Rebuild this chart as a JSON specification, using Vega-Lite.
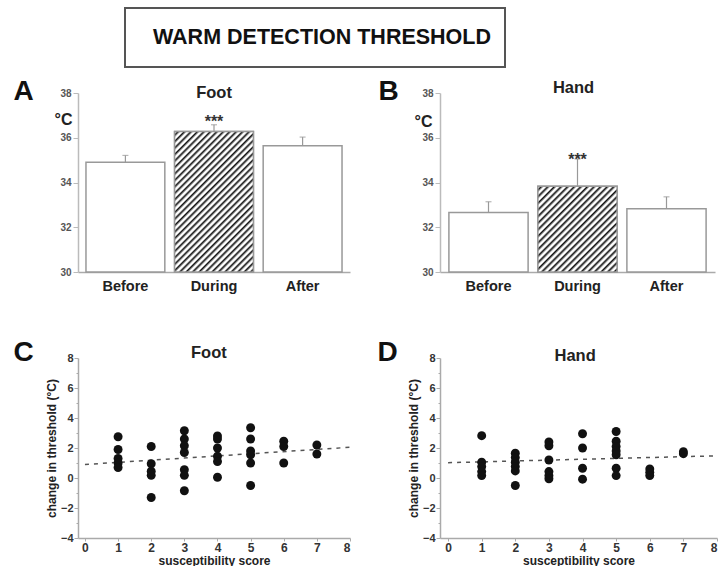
{
  "$schema": "https://vega.github.io/schema/vega-lite/v6.json",
  "background": "white",
  "padding": {"left": 13, "top": 7, "right": 0, "bottom": 0},
  "config": {
    "view": {"stroke": null},
    "font": "Liberation Sans"
  },
  "spacing": 9,
  "vconcat": [
    {
      "spacing": 0,
      "hconcat": [
        {
          "width": 46,
          "height": 59,
          "view": {"fill": "white"},
          "data": {"values": []},
          "mark": {"type": "text"},
          "encoding": {}
        },
        {
          "width": 380,
          "height": 59,
          "view": {"stroke": "#555", "strokeWidth": 2},
          "data": {"values": [{"label": "WARM DETECTION THRESHOLD"}]},
          "mark": {"type": "text", "fontSize": 21.5, "fontWeight": "bold", "color": "#111", "baseline": "middle", "align": "center", "dx": 7},
          "encoding": {"text": {"field": "label"}}
        }
      ]
    },
    {
      "spacing": 45,
      "vconcat": [
        {
          "spacing": 28,
          "hconcat": [
            {
              "width": 272,
              "height": 179,
              "data": {"values": [
                {"phase": "Before", "mean": 34.9, "upper": 35.21},
                {"phase": "During", "mean": 36.28, "upper": 36.58},
                {"phase": "After", "mean": 35.64, "upper": 36.03}
              ]},
              "encoding": {
                "x": {"field": "phase", "type": "nominal", "sort": ["Before", "During", "After"],
                  "scale": {"paddingInner": 0.11, "paddingOuter": 0.09},
                  "axis": {"title": null, "labelAngle": 0, "labelFontSize": 14.5, "labelFontWeight": "bold", "labelColor": "#222", "ticks": false, "labelPadding": 7, "domainColor": "#aaa", "domainWidth": 1.5}}
              },
              "resolve": {"scale": {"y": "independent"}, "axis": {"y": "independent"}},
              "layer": [
                {
                  "layer": [
                    {
                      "mark": {"type": "bar", "fill": "white", "stroke": "#999", "strokeWidth": 1.5},
                      "encoding": {
                        "y": {"field": "mean", "type": "quantitative", "scale": {"domain": [30, 38], "nice": false, "zero": false},
                          "axis": {"values": [30, 32, 34, 36, 38], "tickCount": 10, "format": "d", "grid": false, "title": "°C", "titleAngle": 0, "titleAlign": "right", "titleBaseline": "middle", "titleX": -6, "titleY": 26, "titleFontSize": 16, "titleFontWeight": "bold", "titleColor": "#222", "labelFontSize": 10, "labelFontWeight": "bold", "labelColor": "#555", "tickSize": 5, "tickColor": "#bbb", "domainColor": "#bbb", "domainWidth": 1.5, "labelPadding": 2}},
                        "y2": {"datum": 30}
                      }
                    },
                    {
                      "transform": [{"filter": "datum.phase === 'During'"}],
                      "mark": {"type": "bar", "stroke": "#999", "strokeWidth": 1.5,
                        "fill": {"gradient": "linear", "x1": 0, "y1": 0, "x2": 0.6665, "y2": 1.1876, "stops": [
                          {"offset": 0, "color": "#fff"}, {"offset": 0.0074, "color": "#fff"}, {"offset": 0.0162, "color": "#111"},
                          {"offset": 0.0294, "color": "#fff"}, {"offset": 0.0368, "color": "#fff"}, {"offset": 0.0456, "color": "#111"},
                          {"offset": 0.0588, "color": "#fff"}, {"offset": 0.0662, "color": "#fff"}, {"offset": 0.0750, "color": "#111"},
                          {"offset": 0.0882, "color": "#fff"}, {"offset": 0.0956, "color": "#fff"}, {"offset": 0.1044, "color": "#111"},
                          {"offset": 0.1176, "color": "#fff"}, {"offset": 0.1250, "color": "#fff"}, {"offset": 0.1338, "color": "#111"},
                          {"offset": 0.1471, "color": "#fff"}, {"offset": 0.1545, "color": "#fff"}, {"offset": 0.1633, "color": "#111"},
                          {"offset": 0.1765, "color": "#fff"}, {"offset": 0.1839, "color": "#fff"}, {"offset": 0.1927, "color": "#111"},
                          {"offset": 0.2059, "color": "#fff"}, {"offset": 0.2133, "color": "#fff"}, {"offset": 0.2221, "color": "#111"},
                          {"offset": 0.2353, "color": "#fff"}, {"offset": 0.2427, "color": "#fff"}, {"offset": 0.2515, "color": "#111"},
                          {"offset": 0.2647, "color": "#fff"}, {"offset": 0.2721, "color": "#fff"}, {"offset": 0.2809, "color": "#111"},
                          {"offset": 0.2941, "color": "#fff"}, {"offset": 0.3015, "color": "#fff"}, {"offset": 0.3103, "color": "#111"},
                          {"offset": 0.3235, "color": "#fff"}, {"offset": 0.3309, "color": "#fff"}, {"offset": 0.3397, "color": "#111"},
                          {"offset": 0.3529, "color": "#fff"}, {"offset": 0.3603, "color": "#fff"}, {"offset": 0.3691, "color": "#111"},
                          {"offset": 0.3824, "color": "#fff"}, {"offset": 0.3898, "color": "#fff"}, {"offset": 0.3986, "color": "#111"},
                          {"offset": 0.4118, "color": "#fff"}, {"offset": 0.4192, "color": "#fff"}, {"offset": 0.4280, "color": "#111"},
                          {"offset": 0.4412, "color": "#fff"}, {"offset": 0.4486, "color": "#fff"}, {"offset": 0.4574, "color": "#111"},
                          {"offset": 0.4706, "color": "#fff"}, {"offset": 0.4780, "color": "#fff"}, {"offset": 0.4868, "color": "#111"},
                          {"offset": 0.5000, "color": "#fff"}, {"offset": 0.5074, "color": "#fff"}, {"offset": 0.5162, "color": "#111"},
                          {"offset": 0.5294, "color": "#fff"}, {"offset": 0.5368, "color": "#fff"}, {"offset": 0.5456, "color": "#111"},
                          {"offset": 0.5588, "color": "#fff"}, {"offset": 0.5662, "color": "#fff"}, {"offset": 0.5750, "color": "#111"},
                          {"offset": 0.5882, "color": "#fff"}, {"offset": 0.5956, "color": "#fff"}, {"offset": 0.6044, "color": "#111"},
                          {"offset": 0.6176, "color": "#fff"}, {"offset": 0.6250, "color": "#fff"}, {"offset": 0.6338, "color": "#111"},
                          {"offset": 0.6471, "color": "#fff"}, {"offset": 0.6545, "color": "#fff"}, {"offset": 0.6633, "color": "#111"},
                          {"offset": 0.6765, "color": "#fff"}, {"offset": 0.6839, "color": "#fff"}, {"offset": 0.6927, "color": "#111"},
                          {"offset": 0.7059, "color": "#fff"}, {"offset": 0.7133, "color": "#fff"}, {"offset": 0.7221, "color": "#111"},
                          {"offset": 0.7353, "color": "#fff"}, {"offset": 0.7427, "color": "#fff"}, {"offset": 0.7515, "color": "#111"},
                          {"offset": 0.7647, "color": "#fff"}, {"offset": 0.7721, "color": "#fff"}, {"offset": 0.7809, "color": "#111"},
                          {"offset": 0.7941, "color": "#fff"}, {"offset": 0.8015, "color": "#fff"}, {"offset": 0.8103, "color": "#111"},
                          {"offset": 0.8235, "color": "#fff"}, {"offset": 0.8309, "color": "#fff"}, {"offset": 0.8397, "color": "#111"},
                          {"offset": 0.8529, "color": "#fff"}, {"offset": 0.8603, "color": "#fff"}, {"offset": 0.8691, "color": "#111"},
                          {"offset": 0.8824, "color": "#fff"}, {"offset": 0.8898, "color": "#fff"}, {"offset": 0.8986, "color": "#111"},
                          {"offset": 0.9118, "color": "#fff"}, {"offset": 0.9192, "color": "#fff"}, {"offset": 0.9280, "color": "#111"},
                          {"offset": 0.9412, "color": "#fff"}, {"offset": 0.9486, "color": "#fff"}, {"offset": 0.9574, "color": "#111"},
                          {"offset": 0.9706, "color": "#fff"}, {"offset": 0.9780, "color": "#fff"}, {"offset": 0.9868, "color": "#111"},
                          {"offset": 1, "color": "#fff"}
                        ]}},
                      "encoding": {"y": {"field": "mean", "type": "quantitative"}, "y2": {"datum": 30}}
                    },
                    {
                      "mark": {"type": "rule", "color": "#999", "strokeWidth": 1.2},
                      "encoding": {"y": {"field": "mean", "type": "quantitative"}, "y2": {"field": "upper"}}
                    },
                    {
                      "mark": {"type": "tick", "color": "#999", "thickness": 1.2, "size": 6},
                      "encoding": {"y": {"field": "upper", "type": "quantitative"}}
                    },
                    {
                      "transform": [{"filter": "datum.phase === 'During'"}],
                      "mark": {"type": "text", "text": "***", "fontSize": 16, "fontWeight": "bold", "color": "#333", "baseline": "alphabetic"},
                      "encoding": {"y": {"datum": 36.5}}
                    }
                  ]
                },
                {
                  "transform": [{"filter": "datum.phase === 'During'"}],
                  "mark": {"type": "text", "text": "Foot", "fontSize": 16.5, "fontWeight": "bold", "color": "#222", "baseline": "alphabetic"},
                  "encoding": {"y": {"datum": 37.78, "scale": {"domain": [30, 38], "nice": false, "zero": false},
                    "axis": {"orient": "left", "title": "A", "titleX": -65, "titleY": 6.5, "titleAngle": 0, "titleAlign": "left", "titleBaseline": "alphabetic", "titleFontSize": 28, "titleFontWeight": "bold", "titleColor": "#111", "labels": false, "ticks": false, "domain": false, "grid": false}}}
                }
              ]
            },
            {
              "width": 275,
              "height": 179,
              "data": {"values": [
                {"phase": "Before", "mean": 32.66, "upper": 33.14},
                {"phase": "During", "mean": 33.83, "upper": 35.05},
                {"phase": "After", "mean": 32.83, "upper": 33.36}
              ]},
              "encoding": {
                "x": {"field": "phase", "type": "nominal", "sort": ["Before", "During", "After"],
                  "scale": {"paddingInner": 0.11, "paddingOuter": 0.1},
                  "axis": {"title": null, "labelAngle": 0, "labelFontSize": 14.5, "labelFontWeight": "bold", "labelColor": "#222", "ticks": false, "labelPadding": 7, "domainColor": "#aaa", "domainWidth": 1.5}}
              },
              "resolve": {"scale": {"y": "independent"}, "axis": {"y": "independent"}},
              "layer": [
                {
                  "layer": [
                    {
                      "mark": {"type": "bar", "fill": "white", "stroke": "#999", "strokeWidth": 1.5},
                      "encoding": {
                        "y": {"field": "mean", "type": "quantitative", "scale": {"domain": [30, 38], "nice": false, "zero": false},
                          "axis": {"values": [30, 32, 34, 36, 38], "tickCount": 10, "format": "d", "grid": false, "title": "°C", "titleAngle": 0, "titleAlign": "right", "titleBaseline": "middle", "titleX": -8, "titleY": 28, "titleFontSize": 16, "titleFontWeight": "bold", "titleColor": "#222", "labelFontSize": 10, "labelFontWeight": "bold", "labelColor": "#555", "tickSize": 5, "tickColor": "#bbb", "domainColor": "#bbb", "domainWidth": 1.5, "labelPadding": 2}},
                        "y2": {"datum": 30}
                      }
                    },
                    {
                      "transform": [{"filter": "datum.phase === 'During'"}],
                      "mark": {"type": "bar", "stroke": "#999", "strokeWidth": 1.5,
                        "fill": {"gradient": "linear", "x1": 0, "y1": 0, "x2": 0.959, "y2": 1.0378, "stops": [
                          {"offset": 0, "color": "#fff"}, {"offset": 0.01, "color": "#fff"}, {"offset": 0.022, "color": "#111"},
                          {"offset": 0.04, "color": "#fff"}, {"offset": 0.05, "color": "#fff"}, {"offset": 0.062, "color": "#111"},
                          {"offset": 0.08, "color": "#fff"}, {"offset": 0.09, "color": "#fff"}, {"offset": 0.102, "color": "#111"},
                          {"offset": 0.12, "color": "#fff"}, {"offset": 0.13, "color": "#fff"}, {"offset": 0.142, "color": "#111"},
                          {"offset": 0.16, "color": "#fff"}, {"offset": 0.17, "color": "#fff"}, {"offset": 0.182, "color": "#111"},
                          {"offset": 0.20, "color": "#fff"}, {"offset": 0.21, "color": "#fff"}, {"offset": 0.222, "color": "#111"},
                          {"offset": 0.24, "color": "#fff"}, {"offset": 0.25, "color": "#fff"}, {"offset": 0.262, "color": "#111"},
                          {"offset": 0.28, "color": "#fff"}, {"offset": 0.29, "color": "#fff"}, {"offset": 0.302, "color": "#111"},
                          {"offset": 0.32, "color": "#fff"}, {"offset": 0.33, "color": "#fff"}, {"offset": 0.342, "color": "#111"},
                          {"offset": 0.36, "color": "#fff"}, {"offset": 0.37, "color": "#fff"}, {"offset": 0.382, "color": "#111"},
                          {"offset": 0.40, "color": "#fff"}, {"offset": 0.41, "color": "#fff"}, {"offset": 0.422, "color": "#111"},
                          {"offset": 0.44, "color": "#fff"}, {"offset": 0.45, "color": "#fff"}, {"offset": 0.462, "color": "#111"},
                          {"offset": 0.48, "color": "#fff"}, {"offset": 0.49, "color": "#fff"}, {"offset": 0.502, "color": "#111"},
                          {"offset": 0.52, "color": "#fff"}, {"offset": 0.53, "color": "#fff"}, {"offset": 0.542, "color": "#111"},
                          {"offset": 0.56, "color": "#fff"}, {"offset": 0.57, "color": "#fff"}, {"offset": 0.582, "color": "#111"},
                          {"offset": 0.60, "color": "#fff"}, {"offset": 0.61, "color": "#fff"}, {"offset": 0.622, "color": "#111"},
                          {"offset": 0.64, "color": "#fff"}, {"offset": 0.65, "color": "#fff"}, {"offset": 0.662, "color": "#111"},
                          {"offset": 0.68, "color": "#fff"}, {"offset": 0.69, "color": "#fff"}, {"offset": 0.702, "color": "#111"},
                          {"offset": 0.72, "color": "#fff"}, {"offset": 0.73, "color": "#fff"}, {"offset": 0.742, "color": "#111"},
                          {"offset": 0.76, "color": "#fff"}, {"offset": 0.77, "color": "#fff"}, {"offset": 0.782, "color": "#111"},
                          {"offset": 0.80, "color": "#fff"}, {"offset": 0.81, "color": "#fff"}, {"offset": 0.822, "color": "#111"},
                          {"offset": 0.84, "color": "#fff"}, {"offset": 0.85, "color": "#fff"}, {"offset": 0.862, "color": "#111"},
                          {"offset": 0.88, "color": "#fff"}, {"offset": 0.89, "color": "#fff"}, {"offset": 0.902, "color": "#111"},
                          {"offset": 0.92, "color": "#fff"}, {"offset": 0.93, "color": "#fff"}, {"offset": 0.942, "color": "#111"},
                          {"offset": 0.96, "color": "#fff"}, {"offset": 0.97, "color": "#fff"}, {"offset": 0.982, "color": "#111"},
                          {"offset": 1, "color": "#fff"}
                        ]}},
                      "encoding": {"y": {"field": "mean", "type": "quantitative"}, "y2": {"datum": 30}}
                    },
                    {
                      "mark": {"type": "rule", "color": "#999", "strokeWidth": 1.2},
                      "encoding": {"y": {"field": "mean", "type": "quantitative"}, "y2": {"field": "upper"}}
                    },
                    {
                      "mark": {"type": "tick", "color": "#999", "thickness": 1.2, "size": 6},
                      "encoding": {"y": {"field": "upper", "type": "quantitative"}}
                    },
                    {
                      "transform": [{"filter": "datum.phase === 'During'"}],
                      "mark": {"type": "text", "text": "***", "fontSize": 16, "fontWeight": "bold", "color": "#333", "baseline": "alphabetic"},
                      "encoding": {"y": {"datum": 34.76}}
                    }
                  ]
                },
                {
                  "transform": [{"filter": "datum.phase === 'During'"}],
                  "mark": {"type": "text", "text": "Hand", "fontSize": 16.5, "fontWeight": "bold", "color": "#222", "baseline": "alphabetic", "dx": -4},
                  "encoding": {"y": {"datum": 38, "scale": {"domain": [30, 38], "nice": false, "zero": false},
                    "axis": {"orient": "left", "title": "B", "titleX": -62, "titleY": 6.5, "titleAngle": 0, "titleAlign": "left", "titleBaseline": "alphabetic", "titleFontSize": 28, "titleFontWeight": "bold", "titleColor": "#111", "labels": false, "ticks": false, "domain": false, "grid": false}}}
                }
              ]
            }
          ]
        },
        {
          "spacing": 24,
          "hconcat": [
            {
              "width": 272,
              "height": 180,
              "resolve": {"scale": {"y": "independent"}, "axis": {"y": "independent"}},
              "layer": [
                {
                  "layer": [
                    {
                      "data": {"values": [{"score": 0, "change": 0.9}, {"score": 8, "change": 2.05}]},
                      "mark": {"type": "line", "strokeDash": [4, 5], "color": "#555", "strokeWidth": 1.5},
                      "encoding": {
                        "x": {"field": "score", "type": "quantitative", "scale": {"domain": [-0.21, 8], "nice": false, "zero": false},
                          "axis": {"values": [0, 1, 2, 3, 4, 5, 6, 7, 8], "tickCount": 20, "format": "d", "labelOverlap": false, "grid": false, "title": "susceptibility score", "titleFontSize": 12, "titleFontWeight": "bold", "titleColor": "#222", "titlePadding": 2, "labelFontSize": 12, "labelFontWeight": "bold", "labelColor": "#333", "tickSize": 3, "tickColor": "#aaa", "labelPadding": 1, "domainColor": "#aaa", "domainWidth": 1.5}},
                        "y": {"field": "change", "type": "quantitative", "scale": {"domain": [-4, 8], "nice": false, "zero": false},
                          "axis": {"values": [-4, -3, -2, -1, 0, 1, 2, 3, 4, 5, 6, 7, 8], "tickCount": 20, "format": "d", "labelOverlap": false, "labelExpr": "datum.value % 2 === 0 ? datum.label : ''", "grid": false, "title": "change in threshold (°C)", "titleFontSize": 12, "titleFontWeight": "bold", "titleColor": "#222", "titlePadding": 2, "labelFontSize": 11, "labelFontWeight": "bold", "labelColor": "#333", "tickSize": {"condition": {"test": "datum.value % 2 === 0", "value": 4}, "value": 2}, "tickColor": "#aaa", "labelPadding": 1, "domainColor": "#aaa", "domainWidth": 1.5}}
                      }
                    },
                    {
                      "data": {"values": [
                        {"score": 1, "change": 2.75}, {"score": 1, "change": 1.9}, {"score": 1, "change": 1.3}, {"score": 1, "change": 1.0}, {"score": 1, "change": 0.7},
                        {"score": 2, "change": 2.1}, {"score": 2, "change": 0.95}, {"score": 2, "change": 0.45}, {"score": 2, "change": 0.18}, {"score": 2, "change": -1.3},
                        {"score": 3, "change": 3.15}, {"score": 3, "change": 2.6}, {"score": 3, "change": 2.15}, {"score": 3, "change": 1.7}, {"score": 3, "change": 0.55}, {"score": 3, "change": 0.18}, {"score": 3, "change": -0.85},
                        {"score": 4, "change": 2.8}, {"score": 4, "change": 2.6}, {"score": 4, "change": 2.0}, {"score": 4, "change": 1.45}, {"score": 4, "change": 1.1}, {"score": 4, "change": 0.05},
                        {"score": 5, "change": 3.35}, {"score": 5, "change": 2.6}, {"score": 5, "change": 1.8}, {"score": 5, "change": 1.55}, {"score": 5, "change": 1.0}, {"score": 5, "change": -0.5},
                        {"score": 6, "change": 2.45}, {"score": 6, "change": 2.1}, {"score": 6, "change": 1.0},
                        {"score": 7, "change": 2.2}, {"score": 7, "change": 1.6}
                      ]},
                      "mark": {"type": "circle", "size": 80, "color": "#111", "opacity": 1},
                      "encoding": {"x": {"field": "score", "type": "quantitative"}, "y": {"field": "change", "type": "quantitative"}}
                    }
                  ]
                },
                {
                  "data": {"values": [{}]},
                  "mark": {"type": "text", "text": "Foot", "fontSize": 16.5, "fontWeight": "bold", "color": "#222", "baseline": "alphabetic"},
                  "encoding": {"x": {"datum": 3.74}, "y": {"datum": 8, "scale": {"domain": [-4, 8], "nice": false, "zero": false},
                    "axis": {"orient": "left", "title": "C", "titleX": -65, "titleY": 2.5, "titleAngle": 0, "titleAlign": "left", "titleBaseline": "alphabetic", "titleFontSize": 28, "titleFontWeight": "bold", "titleColor": "#111", "labels": false, "ticks": false, "domain": false, "grid": false}}}
                }
              ]
            },
            {
              "width": 277,
              "height": 180,
              "resolve": {"scale": {"y": "independent"}, "axis": {"y": "independent"}},
              "layer": [
                {
                  "layer": [
                    {
                      "data": {"values": [{"score": 0, "change": 1.02}, {"score": 8, "change": 1.48}]},
                      "mark": {"type": "line", "strokeDash": [4, 5], "color": "#555", "strokeWidth": 1.5},
                      "encoding": {
                        "x": {"field": "score", "type": "quantitative", "scale": {"domain": [-0.24, 8], "nice": false, "zero": false},
                          "axis": {"values": [0, 1, 2, 3, 4, 5, 6, 7, 8], "tickCount": 20, "format": "d", "labelOverlap": false, "grid": false, "title": "susceptibility score", "titleFontSize": 12, "titleFontWeight": "bold", "titleColor": "#222", "titlePadding": 2, "labelFontSize": 12, "labelFontWeight": "bold", "labelColor": "#333", "tickSize": 3, "tickColor": "#aaa", "labelPadding": 1, "domainColor": "#aaa", "domainWidth": 1.5}},
                        "y": {"field": "change", "type": "quantitative", "scale": {"domain": [-4, 8], "nice": false, "zero": false},
                          "axis": {"values": [-4, -3, -2, -1, 0, 1, 2, 3, 4, 5, 6, 7, 8], "tickCount": 20, "format": "d", "labelOverlap": false, "labelExpr": "datum.value % 2 === 0 ? datum.label : ''", "grid": false, "title": "change in threshold (°C)", "titleFontSize": 12, "titleFontWeight": "bold", "titleColor": "#222", "titlePadding": 2, "labelFontSize": 11, "labelFontWeight": "bold", "labelColor": "#333", "tickSize": {"condition": {"test": "datum.value % 2 === 0", "value": 4}, "value": 2}, "tickColor": "#aaa", "labelPadding": 1, "domainColor": "#aaa", "domainWidth": 1.5}}
                      }
                    },
                    {
                      "data": {"values": [
                        {"score": 1, "change": 2.82}, {"score": 1, "change": 1.05}, {"score": 1, "change": 0.76}, {"score": 1, "change": 0.43}, {"score": 1, "change": 0.16},
                        {"score": 2, "change": 1.65}, {"score": 2, "change": 1.36}, {"score": 2, "change": 1.05}, {"score": 2, "change": 0.76}, {"score": 2, "change": 0.47}, {"score": 2, "change": -0.5},
                        {"score": 3, "change": 2.4}, {"score": 3, "change": 2.15}, {"score": 3, "change": 1.2}, {"score": 3, "change": 0.43}, {"score": 3, "change": 0.16}, {"score": 3, "change": -0.05},
                        {"score": 4, "change": 2.95}, {"score": 4, "change": 2.0}, {"score": 4, "change": 0.65}, {"score": 4, "change": -0.08},
                        {"score": 5, "change": 3.1}, {"score": 5, "change": 2.45}, {"score": 5, "change": 2.1}, {"score": 5, "change": 1.8}, {"score": 5, "change": 1.55}, {"score": 5, "change": 0.65}, {"score": 5, "change": 0.16},
                        {"score": 6, "change": 0.6}, {"score": 6, "change": 0.38}, {"score": 6, "change": 0.16},
                        {"score": 7, "change": 1.75}, {"score": 7, "change": 1.62}
                      ]},
                      "mark": {"type": "circle", "size": 80, "color": "#111", "opacity": 1},
                      "encoding": {"x": {"field": "score", "type": "quantitative"}, "y": {"field": "change", "type": "quantitative"}}
                    }
                  ]
                },
                {
                  "data": {"values": [{}]},
                  "mark": {"type": "text", "text": "Hand", "fontSize": 16.5, "fontWeight": "bold", "color": "#222", "baseline": "alphabetic"},
                  "encoding": {"x": {"datum": 3.78}, "y": {"datum": 7.8, "scale": {"domain": [-4, 8], "nice": false, "zero": false},
                    "axis": {"orient": "left", "title": "D", "titleX": -63, "titleY": 2.5, "titleAngle": 0, "titleAlign": "left", "titleBaseline": "alphabetic", "titleFontSize": 28, "titleFontWeight": "bold", "titleColor": "#111", "labels": false, "ticks": false, "domain": false, "grid": false}}}
                }
              ]
            }
          ]
        }
      ]
    }
  ]
}
